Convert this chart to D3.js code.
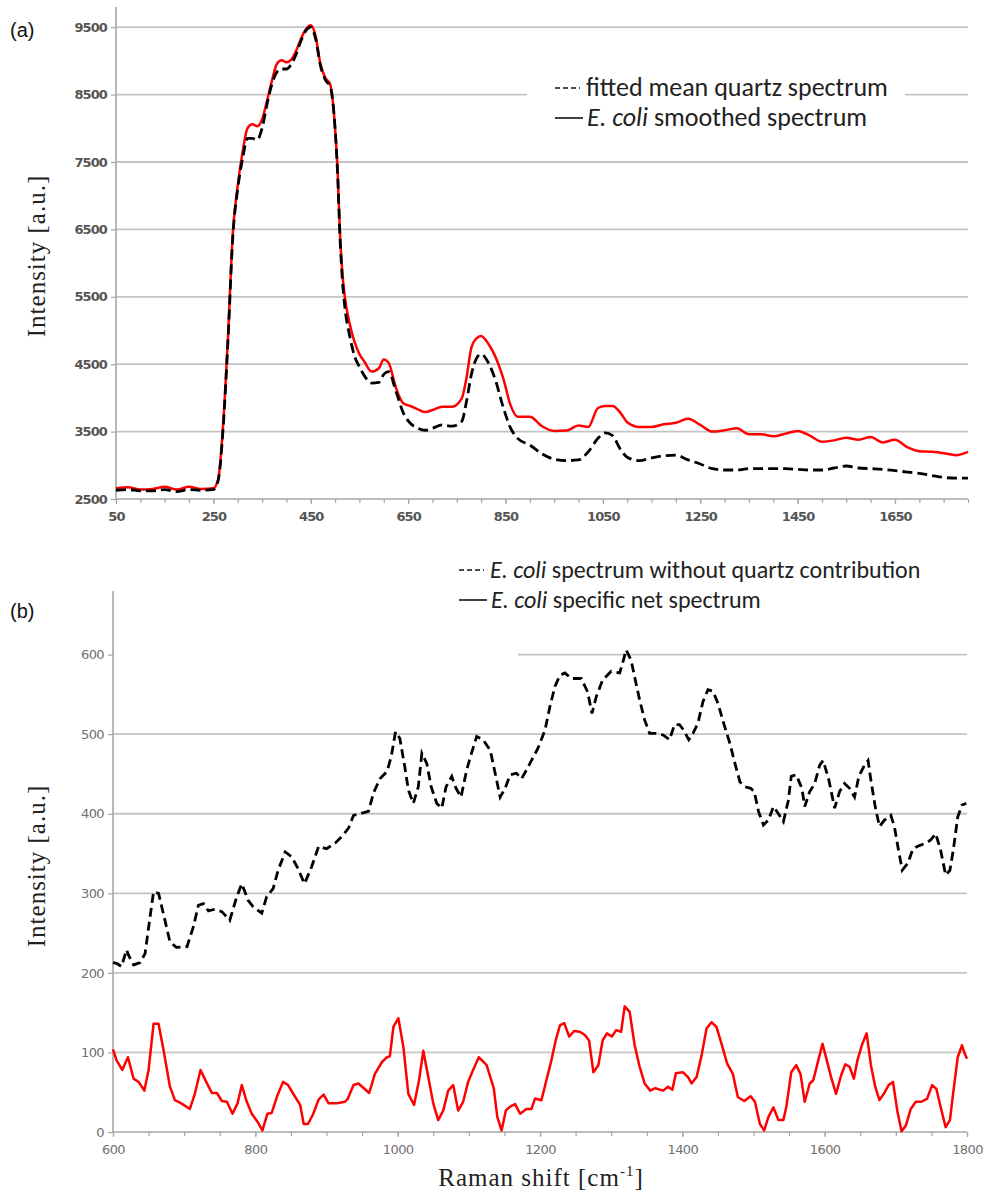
<!DOCTYPE html>
<html>
<head>
<meta charset="utf-8">
<title>E. coli Raman spectra</title>
<script src="https://cdn.jsdelivr.net/npm/d3@7"></script>
<style>
  body { margin: 0; background: #fff; }
  svg { display: block; }
</style>
</head>
<body>
<svg id="chart" width="984" height="1197"></svg>
<script>
// panel (a): fitted quartz vs smoothed E. coli spectrum
const shiftA = [50, 75, 100, 125, 150, 175, 200, 225, 250, 260, 270, 280, 290, 300, 310, 320, 330, 340, 350, 360, 370, 380, 390, 400, 410, 420, 430, 440, 450, 460, 470, 480, 490, 500, 505, 510, 515, 520, 530, 540, 550, 560, 575, 590, 600, 610, 625, 640, 655, 670, 685, 700, 720, 740, 760, 770, 780, 790, 800, 815, 830, 845, 860, 875, 900, 925, 950, 975, 1000, 1020, 1040, 1055, 1070, 1085, 1100, 1125, 1150, 1175, 1200, 1225, 1250, 1275, 1300, 1325, 1350, 1375, 1400, 1425, 1450, 1475, 1500, 1525, 1550, 1575, 1600, 1625, 1650, 1675, 1700, 1725, 1750, 1775, 1800]
const ecoliA = [2660, 2675, 2640, 2650, 2680, 2640, 2680, 2650, 2660, 2800, 3600, 4900, 6450, 7150, 7650, 8000, 8060, 8030, 8130, 8400, 8700, 8950, 9010, 8980, 9020, 9150, 9330, 9470, 9530, 9370, 8950, 8750, 8650, 8000, 7400, 6450, 5850, 5500, 5100, 4830, 4650, 4540, 4390, 4440, 4570, 4520, 4150, 3920, 3880, 3830, 3790, 3820, 3870, 3870, 3990, 4300, 4750, 4880, 4920, 4800, 4600, 4300, 3900, 3720, 3720, 3580, 3510, 3515, 3590, 3570, 3850, 3880, 3880, 3790, 3640, 3570, 3570, 3610, 3630, 3690, 3600, 3500, 3520, 3550, 3460, 3460, 3430, 3470, 3510, 3440, 3350, 3370, 3410, 3380, 3420, 3340, 3380, 3270, 3210, 3200, 3180, 3150, 3200]
const quartzA = [2630, 2640, 2620, 2620, 2640, 2610, 2640, 2630, 2640, 2780, 3550, 4850, 6400, 7100, 7550, 7850, 7850, 7830, 8000, 8350, 8650, 8830, 8880, 8880, 8950, 9100, 9300, 9450, 9500, 9330, 8930, 8720, 8620, 8000, 7350, 6400, 5750, 5350, 4920, 4620, 4460, 4330, 4220, 4230, 4350, 4390, 4100, 3780, 3620, 3550, 3520, 3550, 3600, 3580, 3650, 3950, 4350, 4580, 4650, 4520, 4250, 3870, 3560, 3400, 3300, 3170, 3090, 3070, 3080, 3200, 3400, 3480, 3440, 3250, 3120, 3070, 3110, 3140, 3150, 3080, 3020, 2950, 2930, 2930, 2950, 2950, 2950, 2950, 2940, 2930, 2930, 2960, 2990, 2960, 2950, 2940, 2920, 2900, 2880, 2850, 2820, 2810, 2810]
const yTicksA = [2500, 3500, 4500, 5500, 6500, 7500, 8500, 9500]
const xTicksA = [50, 250, 450, 650, 850, 1050, 1250, 1450, 1650]

// panel (b): spectrum without quartz and specific net spectrum
const shiftNoQuartz = [600, 605, 612, 619, 622, 629, 638, 645, 652, 657, 664, 673, 680, 689, 704, 713, 720, 727, 734, 743, 753, 764, 774, 781, 790, 797, 809, 816, 825, 832, 842, 851, 860, 869, 879, 889, 900, 912, 921, 931, 938, 947, 959, 966, 975, 985, 991, 997, 1003, 1010, 1015, 1022, 1029, 1034, 1041, 1047, 1055, 1062, 1068, 1076, 1082, 1089, 1097, 1103, 1111, 1120, 1130, 1137, 1144, 1151, 1158, 1167, 1174, 1181, 1191, 1197, 1207, 1214, 1221, 1228, 1235, 1244, 1258, 1267, 1273, 1279, 1288, 1300, 1312, 1316, 1321, 1328, 1333, 1340, 1347, 1354, 1363, 1373, 1382, 1389, 1396, 1402, 1409, 1415, 1422, 1429, 1436, 1443, 1450, 1458, 1467, 1474, 1481, 1488, 1496, 1501, 1507, 1514, 1521, 1528, 1535, 1542, 1549, 1553, 1560, 1568, 1572, 1579, 1586, 1593, 1598, 1606, 1614, 1621, 1628, 1635, 1642, 1648, 1656, 1661, 1665, 1671, 1677, 1684, 1693, 1698, 1703, 1709, 1717, 1724, 1733, 1742, 1749, 1756, 1763, 1770, 1776, 1781, 1787, 1793, 1799]
const noQuartz = [213, 212, 208, 229, 222, 210, 213, 224, 270, 302, 300, 266, 239, 232, 233, 258, 285, 287, 278, 280, 277, 266, 296, 312, 291, 283, 275, 296, 306, 329, 352, 346, 331, 312, 333, 359, 356, 363, 371, 382, 398, 400, 403, 426, 444, 453, 472, 503, 495, 459, 430, 413, 434, 476, 463, 434, 413, 407, 434, 447, 432, 421, 455, 474, 497, 493, 480, 451, 421, 432, 449, 451, 444, 455, 472, 482, 505, 535, 560, 574, 577, 570, 570, 553, 526, 547, 568, 579, 577, 589, 606, 593, 572, 543, 518, 501, 501, 499, 493, 512, 512, 505, 493, 501, 514, 541, 556, 554, 539, 514, 488, 463, 440, 434, 432, 428, 403, 386, 392, 409, 400, 390, 417, 447, 449, 432, 409, 428, 438, 461, 467, 442, 407, 428, 438, 432, 421, 447, 461, 467, 442, 409, 384, 392, 398, 384, 358, 329, 338, 356, 360, 363, 367, 375, 354, 323, 329, 356, 396, 411, 413]
const shiftNet = [600, 605, 613, 621, 629, 636, 644, 650, 657, 664, 671, 680, 687, 696, 708, 715, 723, 731, 739, 746, 753, 760, 768, 775, 781, 788, 795, 803, 810, 817, 823, 831, 839, 846, 856, 863, 868, 874, 881, 889, 896, 903, 914, 926, 930, 938, 945, 960, 968, 978, 985, 989, 994, 1001, 1008, 1015, 1023, 1030, 1036, 1043, 1050, 1057, 1064, 1071, 1078, 1085, 1092, 1099, 1106, 1114, 1125, 1135, 1140, 1146, 1152, 1158, 1165, 1172, 1181, 1188, 1193, 1202, 1209, 1216, 1222, 1228, 1234, 1241, 1248, 1256, 1263, 1269, 1275, 1282, 1288, 1294, 1301, 1307, 1314, 1319, 1326, 1333, 1340, 1347, 1355, 1362, 1373, 1380, 1386, 1391, 1401, 1408, 1413, 1420, 1427, 1434, 1441, 1448, 1455, 1463, 1471, 1478, 1487, 1496, 1502, 1509, 1515, 1521, 1528, 1535, 1542, 1546, 1553, 1560, 1566, 1572, 1579, 1584, 1591, 1597, 1603, 1609, 1616, 1623, 1629, 1635, 1641, 1646, 1653, 1659, 1665, 1671, 1677, 1683, 1690, 1696, 1702, 1708, 1714, 1721, 1728, 1736, 1744, 1751, 1757, 1763, 1770, 1776, 1781, 1787, 1793, 1797, 1800]
const net = [104, 90, 78, 94, 67, 63, 52, 78, 136, 136, 103, 57, 40, 36, 29, 48, 78, 63, 49, 49, 39, 38, 23, 36, 59, 38, 23, 13, 2, 23, 24, 46, 63, 59, 44, 34, 10, 10, 22, 41, 47, 36, 36, 38, 42, 59, 61, 49, 73, 88, 94, 95, 132, 143, 107, 48, 34, 65, 102, 69, 36, 15, 27, 52, 59, 27, 38, 63, 78, 94, 84, 55, 19, 2, 27, 32, 35, 23, 29, 29, 42, 40, 65, 90, 115, 134, 137, 120, 127, 126, 122, 115, 75, 84, 115, 124, 120, 128, 126, 158, 151, 109, 82, 61, 52, 55, 52, 57, 53, 74, 75, 69, 61, 69, 96, 130, 138, 132, 111, 86, 73, 44, 39, 45, 38, 10, 2, 19, 31, 15, 15, 31, 75, 84, 73, 38, 61, 65, 90, 111, 90, 69, 48, 71, 85, 82, 67, 90, 111, 124, 84, 57, 40, 48, 59, 63, 27, 1, 8, 29, 38, 38, 42, 59, 54, 31, 6, 15, 52, 94, 109, 98, 92]
const yTicksB = [0, 100, 200, 300, 400, 500, 600]
const xTicksB = [600, 800, 1000, 1200, 1400, 1600, 1800]

const gridColor = '#c4c4c4'
const axisColor = '#a6a6a6'
const red = '#ff0000'
const svg = d3.select('#chart')

const xA = d3.scaleLinear().domain([50, 1800]).range([116, 968])
const yA = d3.scaleLinear().domain([2500, 9800]).range([499, 7])
const xB = d3.scaleLinear().domain([600, 1800]).range([113, 967])
const yB = d3.scaleLinear().domain([0, 680]).range([1132, 591])

function drawFrame (x, y, yTicks, xTicks, minorStep, labelStyle) {
  const [x0, x1] = x.range()
  const [yBottom, yTop] = y.range()
  const g = svg.append('g')

  // horizontal gridlines
  g.selectAll('line.grid')
    .data(yTicks.slice(1))
    .join('line')
    .attr('x1', x0).attr('x2', x1)
    .attr('y1', d => y(d)).attr('y2', d => y(d))
    .attr('stroke', gridColor)
    .attr('stroke-width', 1.8)

  // minor x ticks
  const minor = d3.axisBottom(x)
    .tickValues(d3.range(x.domain()[0], x.domain()[1] + 1, minorStep))
    .tickSize(4)
    .tickFormat('')
  g.append('g').attr('transform', `translate(0,${yBottom})`).call(minor)

  const xAxis = d3.axisBottom(x).tickValues(xTicks).tickSize(5).tickPadding(labelStyle.padX).tickFormat(d3.format('d'))
  g.append('g').attr('transform', `translate(0,${yBottom})`).call(xAxis)

  const yAxis = d3.axisLeft(y).tickValues(yTicks).tickSize(5).tickPadding(4).tickFormat(d3.format('d'))
  g.append('g').attr('transform', `translate(${x0},0)`).call(yAxis)

  g.selectAll('.domain').remove()
  g.selectAll('.tick line').attr('stroke', axisColor).attr('stroke-width', 1.2)
  g.selectAll('.tick text')
    .attr('font-family', labelStyle.family)
    .attr('font-size', labelStyle.size)
    .attr('font-weight', labelStyle.weight)
    .attr('letter-spacing', labelStyle.spacing)
    .attr('fill', labelStyle.fill)

  g.append('line')
    .attr('x1', x0).attr('x2', x1).attr('y1', yBottom).attr('y2', yBottom)
    .attr('stroke', axisColor).attr('stroke-width', 1.6)
  g.append('line')
    .attr('x1', x0).attr('x2', x0).attr('y1', yBottom).attr('y2', yTop)
    .attr('stroke', axisColor).attr('stroke-width', 1.6)
  return g
}

function yLabel (cx, cy) {
  svg.append('text')
    .attr('transform', `translate(${cx},${cy}) rotate(-90)`)
    .attr('text-anchor', 'middle')
    .attr('font-family', 'Liberation Serif, Times New Roman, serif')
    .attr('font-size', 25)
    .attr('letter-spacing', 1)
    .attr('fill', '#222')
    .text('Intensity [a.u.]')
}

function legendRow (x, y, dashed, size, parts) {
  svg.append('line')
    .attr('x1', x).attr('x2', x + (dashed ? 25 : 28))
    .attr('y1', y).attr('y2', y)
    .attr('stroke', '#111')
    .attr('stroke-width', 1.6)
    .attr('stroke-dasharray', dashed ? '5,3' : null)
  const t = svg.append('text')
    .attr('x', x + (dashed ? 31 : 32))
    .attr('y', y + 8)
    .attr('font-family', 'Carlito, Lato, Open Sans, sans-serif')
    .attr('font-size', size)
    .attr('fill', '#222')
  parts.forEach(p => {
    t.append('tspan').attr('font-style', p.italic ? 'italic' : null).text(p.text)
  })
}

const lineA = d3.line().curve(d3.curveMonotoneX)

// ---- panel (a)
drawFrame(xA, yA, yTicksA, xTicksA, 50,
  { family: 'DejaVu Sans, sans-serif', size: 13, weight: 'bold', spacing: -0.9, fill: '#555', padX: 8 })

// legend background hides the gridline behind it
svg.append('rect').attr('x', 527).attr('y', 76).attr('width', 378).attr('height', 56).attr('fill', '#fff')

svg.append('path')
  .datum(shiftA.map((s, i) => [xA(s), yA(ecoliA[i])]))
  .attr('d', lineA)
  .attr('fill', 'none')
  .attr('stroke', red)
  .attr('stroke-width', 2.5)
  .attr('stroke-linejoin', 'round')

svg.append('path')
  .datum(shiftA.map((s, i) => [xA(s), yA(quartzA[i])]))
  .attr('d', lineA)
  .attr('fill', 'none')
  .attr('stroke', '#000')
  .attr('stroke-width', 2.8)
  .attr('stroke-dasharray', '10,5')

legendRow(555, 88, true, 26, [{ text: 'fitted mean quartz spectrum' }])
legendRow(555, 118, false, 26, [{ text: 'E. coli', italic: true }, { text: ' smoothed spectrum' }])

yLabel(45, 256)
svg.append('text').attr('x', 10).attr('y', 37)
  .attr('font-family', 'Liberation Sans, Arial, sans-serif').attr('font-size', 20).attr('fill', '#111')
  .text('(a)')

// ---- panel (b)
drawFrame(xB, yB, yTicksB, xTicksB, 50,
  { family: 'DejaVu Sans, sans-serif', size: 13, weight: 'normal', spacing: -0.6, fill: '#707070', padX: 8 })

svg.append('rect').attr('x', 114).attr('y', 648).attr('width', 404).attr('height', 14).attr('fill', '#fff')

const lineB = d3.line()

svg.append('path')
  .datum(shiftNoQuartz.map((s, i) => [xB(s), yB(noQuartz[i])]))
  .attr('d', lineB)
  .attr('fill', 'none')
  .attr('stroke', '#000')
  .attr('stroke-width', 2.8)
  .attr('stroke-dasharray', '9,5')

svg.append('path')
  .datum(shiftNet.map((s, i) => [xB(s), yB(net[i])]))
  .attr('d', lineB)
  .attr('fill', 'none')
  .attr('stroke', red)
  .attr('stroke-width', 2.5)
  .attr('stroke-linejoin', 'round')

legendRow(459, 570, true, 24, [{ text: 'E. coli', italic: true }, { text: ' spectrum without quartz contribution' }])
legendRow(459, 600, false, 24, [{ text: 'E. coli', italic: true }, { text: ' specific net spectrum' }])

yLabel(45, 866)
svg.append('text').attr('x', 10).attr('y', 618)
  .attr('font-family', 'Liberation Sans, Arial, sans-serif').attr('font-size', 20).attr('fill', '#111')
  .text('(b)')

const xTitle = svg.append('text')
  .attr('x', 541).attr('y', 1186)
  .attr('text-anchor', 'middle')
  .attr('font-family', 'Liberation Serif, Times New Roman, serif')
  .attr('font-size', 25)
  .attr('letter-spacing', 1)
  .attr('fill', '#222')
xTitle.append('tspan').text('Raman shift [cm')
xTitle.append('tspan').attr('dy', -10).attr('font-size', 15).text('-1')
xTitle.append('tspan').attr('dy', 10).text(']')
</script>
</body>
</html>
